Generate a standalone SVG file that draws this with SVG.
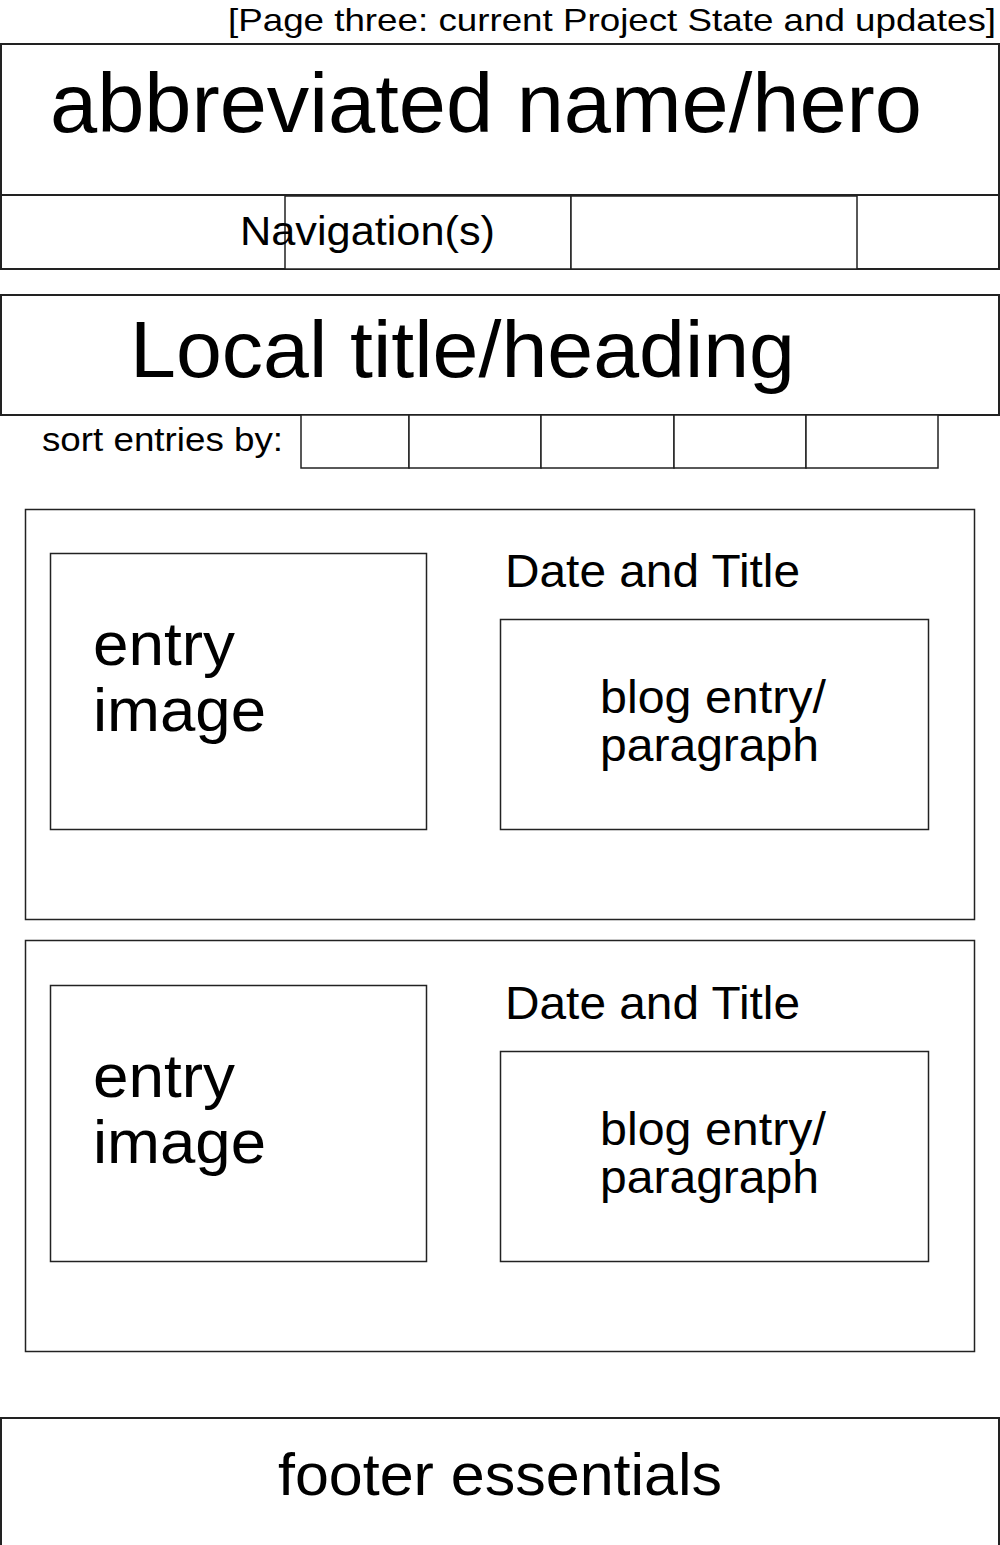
<svg xmlns="http://www.w3.org/2000/svg" width="1000" height="1545" viewBox="0 0 1000 1545">
<style>
rect{fill:#fff;stroke:#222;stroke-width:2}
.thin{stroke-width:1.5}
text{font-family:"Liberation Sans",Arial,sans-serif;fill:#000}
.ei{font-size:62px}
.dt{font-size:46px}
.be{font-size:47px}
</style>
<rect x="0" y="0" width="1000" height="1545" style="stroke:none"/>
<g id="page-label"><text x="996" y="31" font-size="32" text-anchor="end" textLength="768" lengthAdjust="spacingAndGlyphs">[Page three: current Project State and updates]</text></g>
<g id="hero"><rect x="1" y="44" width="998" height="151"/><text x="50" y="132" font-size="84" textLength="872" lengthAdjust="spacingAndGlyphs">abbreviated name/hero</text></g>
<g id="nav">
<rect x="1" y="195" width="998" height="74"/>
<rect x="285" y="196" width="286" height="73" class="thin"/>
<rect x="571" y="196" width="286" height="73" class="thin"/>
<text x="240" y="245" font-size="40" textLength="255" lengthAdjust="spacingAndGlyphs">Navigation(s)</text>
</g>
<g id="local-title"><rect x="1" y="295" width="998" height="120"/><text x="130" y="377" font-size="80" textLength="665" lengthAdjust="spacingAndGlyphs">Local title/heading</text></g>
<g id="sort">
<text x="42" y="451" font-size="34" textLength="241" lengthAdjust="spacingAndGlyphs">sort entries by:</text>
<rect x="301" y="415" width="108" height="53" class="thin"/>
<rect x="409" y="415" width="132" height="53" class="thin"/>
<rect x="541" y="415" width="133" height="53" class="thin"/>
<rect x="674" y="415" width="132" height="53" class="thin"/>
<rect x="806" y="415" width="132" height="53" class="thin"/>
</g>
<g id="entry1">
<rect x="25.5" y="509.5" width="949" height="410" class="thin"/>
<rect x="50.5" y="553.5" width="376" height="276" class="thin"/>
<text x="93" y="665" class="ei" textLength="142" lengthAdjust="spacingAndGlyphs">entry</text>
<text x="93" y="731" class="ei" textLength="173" lengthAdjust="spacingAndGlyphs">image</text>
<text x="505" y="587" class="dt" textLength="295" lengthAdjust="spacingAndGlyphs">Date and Title</text>
<rect x="500.5" y="619.5" width="428" height="210" class="thin"/>
<text x="600" y="713" class="be" textLength="226" lengthAdjust="spacingAndGlyphs">blog entry/</text>
<text x="600" y="761" class="be" textLength="219" lengthAdjust="spacingAndGlyphs">paragraph</text>
</g>
<g id="entry2">
<rect x="25.5" y="940.5" width="949" height="411" class="thin"/>
<rect x="50.5" y="985.5" width="376" height="276" class="thin"/>
<text x="93" y="1097" class="ei" textLength="142" lengthAdjust="spacingAndGlyphs">entry</text>
<text x="93" y="1163" class="ei" textLength="173" lengthAdjust="spacingAndGlyphs">image</text>
<text x="505" y="1019" class="dt" textLength="295" lengthAdjust="spacingAndGlyphs">Date and Title</text>
<rect x="500.5" y="1051.5" width="428" height="210" class="thin"/>
<text x="600" y="1145" class="be" textLength="226" lengthAdjust="spacingAndGlyphs">blog entry/</text>
<text x="600" y="1193" class="be" textLength="219" lengthAdjust="spacingAndGlyphs">paragraph</text>
</g>
<g id="footer"><rect x="1" y="1418" width="998" height="130"/><text x="278" y="1495" font-size="60" textLength="444" lengthAdjust="spacingAndGlyphs">footer essentials</text></g>
<g id="connectors"></g>
</svg>
